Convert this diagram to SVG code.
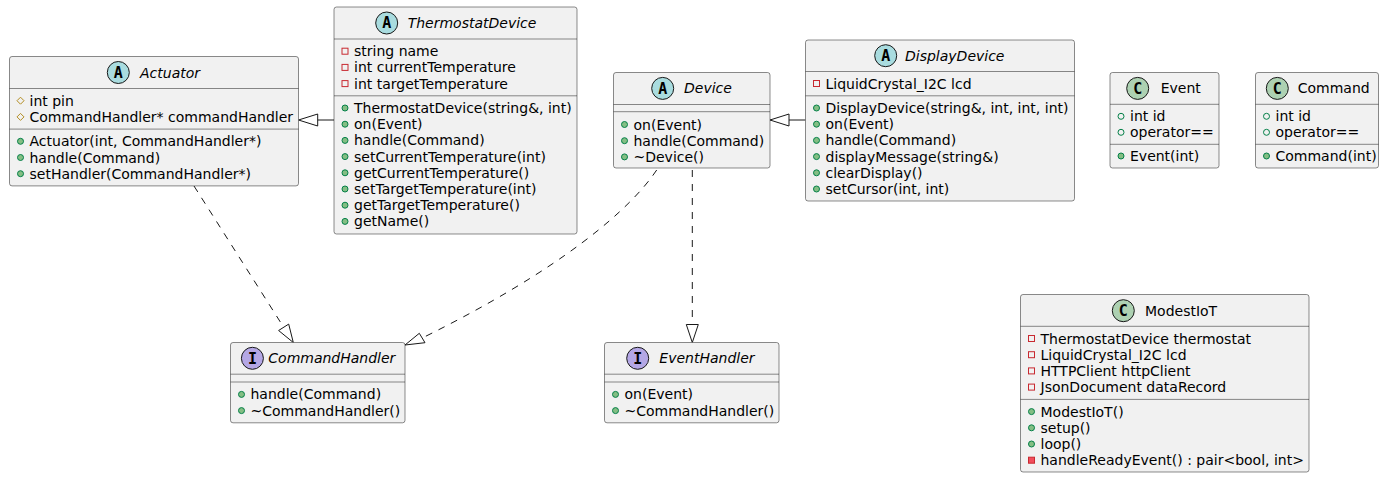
<svg xmlns="http://www.w3.org/2000/svg" width="1388" height="478" viewBox="0 0 1388 478">
<style>
.box{fill:#F1F1F1;stroke:#181818;stroke-width:0.5}
.sep{stroke:#181818;stroke-width:0.5}
.t{font-family:"DejaVu Sans",sans-serif;font-size:14px;fill:#000}
.ti{font-family:"DejaVu Sans",sans-serif;font-size:14px;font-style:italic;fill:#000}
.ic{stroke:#181818;stroke-width:1}
.ab{fill:#A9DCDF}
.cl{fill:#ADD1B2}
.in{fill:#B4A7E5}
.lt{font-family:"DejaVu Sans Mono",monospace;font-size:15px;font-weight:bold;fill:#000;text-anchor:middle}
.pm{fill:#84BE84;stroke:#038048;stroke-width:1}
.pf{fill:none;stroke:#038048;stroke-width:1}
.vf{fill:none;stroke:#C82930;stroke-width:1}
.vm{fill:#F24D5C;stroke:#C82930;stroke-width:1}
.pr{fill:none;stroke:#B38D22;stroke-width:1}
.ln{fill:none;stroke:#181818;stroke-width:1}
.dl{fill:none;stroke:#181818;stroke-width:1;stroke-dasharray:7,7}
.ar{fill:none;stroke:#181818;stroke-width:1}
</style>
<g id="connectors">
<line class="ln" x1="334" y1="120" x2="317.7" y2="120"/>
<polygon class="ar" points="298.5,120 317.7,114 317.7,126"/>
<line class="ln" x1="805.5" y1="120" x2="789" y2="120"/>
<polygon class="ar" points="770,120 789,114 789,126"/>
<line class="dl" x1="194" y1="186" x2="283.7" y2="327.3"/>
<polygon class="ar" points="293.3,342.5 288.7,324.1 278.6,330.5"/>
<path class="dl" d="M656.7,170 C630,210 560,270 422.2,338"/>
<polygon class="ar" points="405,345 419.3,333.3 425,342.7"/>
<line class="dl" x1="692.3" y1="170" x2="692.3" y2="324.5"/>
<polygon class="ar" points="692.3,342.5 686.3,324.5 698.3,324.5"/>
</g>
<g id="Actuator">
<rect class="box" x="9.5" y="56.5" width="289" height="129.4" rx="2.5"/>
<circle class="ic ab" cx="118.3" cy="72.5" r="11"/>
<text class="lt" x="118.3" y="77.8">A</text>
<text class="ti" x="140" y="77.5">Actuator</text>
<line class="sep" x1="9.5" y1="88.5" x2="298.5" y2="88.5"/>
<polygon class="pr" points="20.5,97.2 24,100.7 20.5,104.2 17,100.7"/>
<text class="t" x="29.5" y="105.7">int pin</text>
<polygon class="pr" points="20.5,113.4 24,116.9 20.5,120.4 17,116.9"/>
<text class="t" x="29.5" y="121.9">CommandHandler* commandHandler</text>
<line class="sep" x1="9.5" y1="129.1" x2="298.5" y2="129.1"/>
<circle class="pm" cx="20.5" cy="141.3" r="3"/>
<text class="t" x="29.5" y="146.3">Actuator(int, CommandHandler*)</text>
<circle class="pm" cx="20.5" cy="157.5" r="3"/>
<text class="t" x="29.5" y="162.5">handle(Command)</text>
<circle class="pm" cx="20.5" cy="173.7" r="3"/>
<text class="t" x="29.5" y="178.7">setHandler(CommandHandler*)</text>
</g>
<g id="ThermostatDevice">
<rect class="box" x="334" y="7" width="243" height="227" rx="2.5"/>
<circle class="ic ab" cx="386.7" cy="23" r="11"/>
<text class="lt" x="386.7" y="28.3">A</text>
<text class="ti" x="407.7" y="28">ThermostatDevice</text>
<line class="sep" x1="334" y1="39" x2="577" y2="39"/>
<rect class="vf" x="342" y="48.2" width="6" height="6"/>
<text class="t" x="354" y="56.2">string name</text>
<rect class="vf" x="342" y="64.4" width="6" height="6"/>
<text class="t" x="354" y="72.4">int currentTemperature</text>
<rect class="vf" x="342" y="80.6" width="6" height="6"/>
<text class="t" x="354" y="88.6">int targetTemperature</text>
<line class="sep" x1="334" y1="95.8" x2="577" y2="95.8"/>
<circle class="pm" cx="345" cy="108" r="3"/>
<text class="t" x="354" y="113">ThermostatDevice(string&amp;, int)</text>
<circle class="pm" cx="345" cy="124.2" r="3"/>
<text class="t" x="354" y="129.2">on(Event)</text>
<circle class="pm" cx="345" cy="140.4" r="3"/>
<text class="t" x="354" y="145.4">handle(Command)</text>
<circle class="pm" cx="345" cy="156.6" r="3"/>
<text class="t" x="354" y="161.6">setCurrentTemperature(int)</text>
<circle class="pm" cx="345" cy="172.8" r="3"/>
<text class="t" x="354" y="177.8">getCurrentTemperature()</text>
<circle class="pm" cx="345" cy="189" r="3"/>
<text class="t" x="354" y="194">setTargetTemperature(int)</text>
<circle class="pm" cx="345" cy="205.2" r="3"/>
<text class="t" x="354" y="210.2">getTargetTemperature()</text>
<circle class="pm" cx="345" cy="221.4" r="3"/>
<text class="t" x="354" y="226.4">getName()</text>
</g>
<g id="Device">
<rect class="box" x="613.5" y="72.5" width="156.5" height="95.5" rx="2.5"/>
<circle class="ic ab" cx="662.7" cy="88.4" r="11"/>
<text class="lt" x="662.7" y="93.7">A</text>
<text class="ti" x="684" y="93.4">Device</text>
<line class="sep" x1="613.5" y1="104.5" x2="770" y2="104.5"/>
<line class="sep" x1="613.5" y1="111.7" x2="770" y2="111.7"/>
<circle class="pm" cx="624.5" cy="124.5" r="3"/>
<text class="t" x="633.5" y="129.5">on(Event)</text>
<circle class="pm" cx="624.5" cy="140.7" r="3"/>
<text class="t" x="633.5" y="145.7">handle(Command)</text>
<circle class="pm" cx="624.5" cy="156.9" r="3"/>
<text class="t" x="633.5" y="161.9">~Device()</text>
</g>
<g id="DisplayDevice">
<rect class="box" x="805.5" y="40" width="269" height="161" rx="2.5"/>
<circle class="ic ab" cx="885.7" cy="55.7" r="11"/>
<text class="lt" x="885.7" y="61">A</text>
<text class="ti" x="905" y="60.7">DisplayDevice</text>
<line class="sep" x1="805.5" y1="71.5" x2="1074.5" y2="71.5"/>
<rect class="vf" x="813.5" y="80.5" width="6" height="6"/>
<text class="t" x="825.5" y="88.5">LiquidCrystal_I2C lcd</text>
<line class="sep" x1="805.5" y1="95.8" x2="1074.5" y2="95.8"/>
<circle class="pm" cx="816.5" cy="108" r="3"/>
<text class="t" x="825.5" y="113">DisplayDevice(string&amp;, int, int, int)</text>
<circle class="pm" cx="816.5" cy="124.2" r="3"/>
<text class="t" x="825.5" y="129.2">on(Event)</text>
<circle class="pm" cx="816.5" cy="140.4" r="3"/>
<text class="t" x="825.5" y="145.4">handle(Command)</text>
<circle class="pm" cx="816.5" cy="156.6" r="3"/>
<text class="t" x="825.5" y="161.6">displayMessage(string&amp;)</text>
<circle class="pm" cx="816.5" cy="172.8" r="3"/>
<text class="t" x="825.5" y="177.8">clearDisplay()</text>
<circle class="pm" cx="816.5" cy="189" r="3"/>
<text class="t" x="825.5" y="194">setCursor(int, int)</text>
</g>
<g id="Event">
<rect class="box" x="1110" y="72.5" width="109" height="95.5" rx="2.5"/>
<circle class="ic cl" cx="1137.7" cy="88.4" r="11"/>
<text class="lt" x="1137.7" y="93.7">C</text>
<text class="t" x="1160.7" y="93.4">Event</text>
<line class="sep" x1="1110" y1="104.3" x2="1219" y2="104.3"/>
<circle class="pf" cx="1121" cy="116.3" r="3"/>
<text class="t" x="1130" y="121.3">int id</text>
<circle class="pf" cx="1121" cy="132.3" r="3"/>
<text class="t" x="1130" y="137.3">operator==</text>
<line class="sep" x1="1110" y1="144.3" x2="1219" y2="144.3"/>
<circle class="pm" cx="1121" cy="156" r="3"/>
<text class="t" x="1130" y="161">Event(int)</text>
</g>
<g id="Command">
<rect class="box" x="1255.5" y="72.5" width="123" height="95.5" rx="2.5"/>
<circle class="ic cl" cx="1277.3" cy="88.4" r="11"/>
<text class="lt" x="1277.3" y="93.7">C</text>
<text class="t" x="1297.7" y="93.4">Command</text>
<line class="sep" x1="1255.5" y1="104.3" x2="1378.5" y2="104.3"/>
<circle class="pf" cx="1266.5" cy="116.3" r="3"/>
<text class="t" x="1275.5" y="121.3">int id</text>
<circle class="pf" cx="1266.5" cy="132.3" r="3"/>
<text class="t" x="1275.5" y="137.3">operator==</text>
<line class="sep" x1="1255.5" y1="144.3" x2="1378.5" y2="144.3"/>
<circle class="pm" cx="1266.5" cy="156" r="3"/>
<text class="t" x="1275.5" y="161">Command(int)</text>
</g>
<g id="ModestIoT">
<rect class="box" x="1020.5" y="294.5" width="288.5" height="177.5" rx="2.5"/>
<circle class="ic cl" cx="1123.3" cy="310.7" r="11"/>
<text class="lt" x="1123.3" y="316">C</text>
<text class="t" x="1145" y="315.7">ModestIoT</text>
<line class="sep" x1="1020.5" y1="326.3" x2="1309" y2="326.3"/>
<rect class="vf" x="1028.5" y="335.5" width="6" height="6"/>
<text class="t" x="1040.5" y="343.5">ThermostatDevice thermostat</text>
<rect class="vf" x="1028.5" y="351.7" width="6" height="6"/>
<text class="t" x="1040.5" y="359.7">LiquidCrystal_I2C lcd</text>
<rect class="vf" x="1028.5" y="367.9" width="6" height="6"/>
<text class="t" x="1040.5" y="375.9">HTTPClient httpClient</text>
<rect class="vf" x="1028.5" y="384.1" width="6" height="6"/>
<text class="t" x="1040.5" y="392.1">JsonDocument dataRecord</text>
<line class="sep" x1="1020.5" y1="399.4" x2="1309" y2="399.4"/>
<circle class="pm" cx="1031.5" cy="411.6" r="3"/>
<text class="t" x="1040.5" y="416.6">ModestIoT()</text>
<circle class="pm" cx="1031.5" cy="427.8" r="3"/>
<text class="t" x="1040.5" y="432.8">setup()</text>
<circle class="pm" cx="1031.5" cy="444" r="3"/>
<text class="t" x="1040.5" y="449">loop()</text>
<rect class="vm" x="1028.5" y="457.2" width="6" height="6"/>
<text class="t" x="1040.5" y="465.2">handleReadyEvent() : pair&lt;bool, int&gt;</text>
</g>
<g id="CommandHandler">
<rect class="box" x="230.5" y="342.5" width="174.5" height="80.3" rx="2.5"/>
<circle class="ic in" cx="252.4" cy="358.3" r="11"/>
<text class="lt" x="252.4" y="363.6">I</text>
<text class="ti" x="268.3" y="363.3">CommandHandler</text>
<line class="sep" x1="230.5" y1="374.2" x2="405" y2="374.2"/>
<line class="sep" x1="230.5" y1="382" x2="405" y2="382"/>
<circle class="pm" cx="241.5" cy="394.4" r="3"/>
<text class="t" x="250.5" y="399.4">handle(Command)</text>
<circle class="pm" cx="241.5" cy="410.6" r="3"/>
<text class="t" x="250.5" y="415.6">~CommandHandler()</text>
</g>
<g id="EventHandler">
<rect class="box" x="604.5" y="342.5" width="174.5" height="80.3" rx="2.5"/>
<circle class="ic in" cx="637.7" cy="358.3" r="11"/>
<text class="lt" x="637.7" y="363.6">I</text>
<text class="ti" x="659.3" y="363.3">EventHandler</text>
<line class="sep" x1="604.5" y1="374.2" x2="779" y2="374.2"/>
<line class="sep" x1="604.5" y1="382" x2="779" y2="382"/>
<circle class="pm" cx="615.5" cy="394.4" r="3"/>
<text class="t" x="624.5" y="399.4">on(Event)</text>
<circle class="pm" cx="615.5" cy="410.6" r="3"/>
<text class="t" x="624.5" y="415.6">~CommandHandler()</text>
</g>
</svg>
